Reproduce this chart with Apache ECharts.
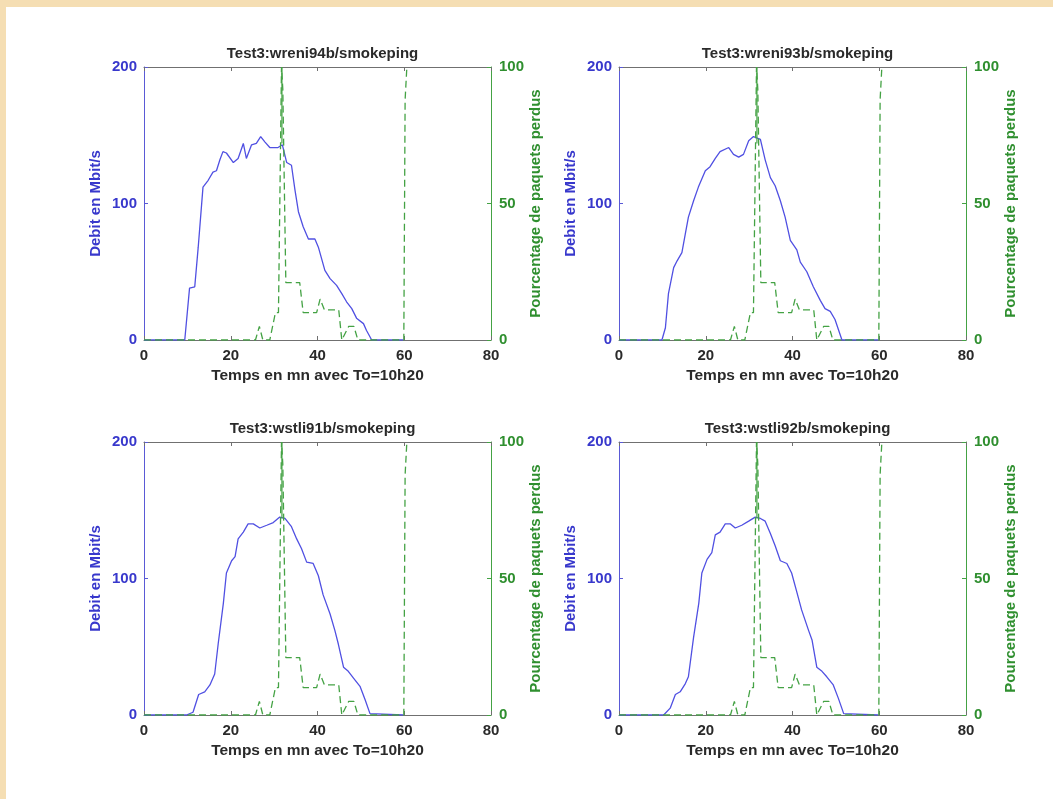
<!DOCTYPE html>
<html>
<head>
<meta charset="utf-8">
<script src="https://cdn.jsdelivr.net/npm/echarts@6.0.0/dist/echarts.min.js"></script>
<style>
html,body{margin:0;padding:0;background:#fff;}
#chart{width:1053px;height:799px;}
</style>
</head>
<body>
<div id="chart"></div>
<script>
// ---- data ----
const titles = ['Test3:wreni94b/smokeping', 'Test3:wreni93b/smokeping', 'Test3:wstli91b/smokeping', 'Test3:wstli92b/smokeping'];
const xTicks = [0, 20, 40, 60, 80];
const xName = 'Temps en mn avec To=10h20';
const yLeftName = 'Debit en Mbit/s';
const yRightName = 'Pourcentage de paquets perdus';

// throughput (Mbit/s) per host
const t94 = [0, 9.4, 10.5, 11.7, 12.5, 13.6, 14.8, 15.9, 16.7, 17.5, 18.2, 19.0, 20.6, 21.7, 22.9, 23.6, 24.8, 25.9, 26.9, 27.9, 29.0, 30.9, 31.9, 32.9, 34.0, 34.8, 35.6, 36.7, 37.9, 39.4, 40.2, 41.7, 42.9, 44.4, 45.6, 46.7, 47.9, 49.0, 50.6, 51.3, 52.5, 59.8];
const d94 = [0, 0, 38, 39, 68, 112, 117, 123, 124, 132, 138, 137, 130, 133, 144, 133, 143, 144, 149, 145, 141, 141, 143, 130, 128, 110, 94, 83, 74, 74, 68, 51, 45, 40, 34, 28, 23, 16, 12, 7, 0, 0];

const t93 = [0, 9.9, 10.7, 11.4, 12.6, 13.4, 14.5, 15.3, 16.0, 17.2, 18.3, 19.9, 21.0, 22.2, 23.3, 25.3, 26.4, 27.6, 28.7, 29.9, 31.0, 32.6, 33.7, 34.9, 36.0, 37.2, 38.3, 39.5, 41.0, 41.8, 43.3, 44.8, 46.4, 47.5, 48.7, 49.8, 51.4, 59.8];
const d93 = [0, 0, 9, 34, 53, 58, 64, 78, 90, 102, 112, 124, 127, 133, 138, 141, 136, 134, 136, 146, 149, 147, 132, 119, 113, 102, 90, 73, 66, 57, 50, 39, 29, 23, 21, 15, 0, 0];

const t91 = [0, 9.8, 11.3, 12.6, 14.0, 15.2, 16.3, 17.1, 18.3, 19.0, 20.2, 21.0, 21.7, 22.9, 24.0, 25.2, 26.7, 28.3, 29.8, 31.3, 32.5, 34.0, 35.2, 36.3, 37.5, 39.0, 40.2, 41.3, 42.9, 44.0, 44.8, 46.0, 47.1, 48.3, 49.8, 51.0, 52.1, 59.8];
const d91 = [0, 0, 2, 15, 17, 22, 30, 52, 82, 104, 113, 116, 129, 134, 140, 140, 137, 139, 141, 145, 144, 138, 129, 122, 112, 111, 102, 88, 74, 62, 52, 35, 32, 27, 21, 11, 1, 0];

const t92 = [0, 10.3, 11.8, 13.0, 14.1, 15.3, 16.0, 17.2, 18.4, 19.1, 20.3, 21.4, 22.2, 23.3, 24.5, 25.7, 26.8, 28.3, 29.9, 31.4, 32.6, 33.7, 34.9, 36.0, 37.2, 38.7, 39.8, 41.0, 42.1, 43.7, 44.5, 45.6, 46.8, 47.9, 49.4, 50.6, 51.8, 59.8];
const d92 = [0, 0, 5, 15, 17, 23, 28, 57, 82, 104, 114, 119, 132, 134, 140, 140, 137, 139, 142, 145, 144, 142, 133, 124, 113, 111, 104, 90, 77, 62, 55, 35, 32, 28, 22, 12, 1, 0];

// packet loss (%) - same pattern on all four panels
const lossT = [0, 25.7, 26.6, 27.4, 29.0, 30.3, 31.0, 31.7, 32.0, 32.7, 35.9, 36.7, 39.8, 40.6, 41.6, 44.9, 45.6, 47.2, 48.4, 49.3, 59.9, 60.2, 60.6];
const lossP = [0, 0, 5, 0, 0, 10, 10, 100, 92, 21, 21, 10, 10, 15, 11, 11, 0, 5, 5, 0, 0, 88, 100];
// solid vertical trace at the loss peak
const spikeT = [31.8, 31.8];
const spikeP = [72, 100];

// ---- styling / layout ----
const FONT = 'Liberation Sans, Arial, Helvetica, sans-serif';
const BLUE_LINE = '#5050e2';
const BLUE_TXT = '#3838cc';
const GREEN_LINE = '#44a244';
const GREEN_TXT = '#2f8f2f';
const FRAME = '#707070';

const grids = [
  {left: 144, top: 67, width: 347, height: 273},
  {left: 619, top: 67, width: 347, height: 273},
  {left: 144, top: 442, width: 347, height: 273},
  {left: 619, top: 442, width: 347, height: 273}
];
const throughput = [[t94, d94], [t93, d93], [t91, d91], [t92, d92]];
const pairs = (xs, ys) => xs.map((x, i) => [x, ys[i]]);

const option = {
  animation: false,
  backgroundColor: '#ffffff',
  graphic: [
    {type: 'rect', shape: {x: 0, y: 0, width: 1053, height: 7}, style: {fill: '#F5DEB3'}, silent: true},
    {type: 'rect', shape: {x: 0, y: 0, width: 6, height: 799}, style: {fill: '#F5DEB3'}, silent: true}
  ],
  title: [],
  grid: [],
  xAxis: [],
  yAxis: [],
  series: []
};

grids.forEach((g, i) => {
  option.grid.push(Object.assign({outerBoundsMode: 'none', containLabel: false}, g));
  option.title.push({
    text: titles[i],
    left: g.left + g.width / 2,
    top: g.top - 26,
    textAlign: 'center',
    textStyle: {fontFamily: FONT, fontSize: 15, fontWeight: 'bold', color: '#2a2a2a'}
  });
  // bottom x axis
  option.xAxis.push({
    type: 'value', gridIndex: i, position: 'bottom', min: xTicks[0], max: xTicks[xTicks.length - 1], interval: xTicks[1] - xTicks[0],
    axisLine: {show: true, onZero: false, lineStyle: {color: FRAME, width: 1}},
    axisTick: {show: true, inside: true, length: 4, lineStyle: {color: FRAME}},
    axisLabel: {show: true, margin: 8, color: '#2a2a2a', fontFamily: FONT, fontSize: 15, fontWeight: 'bold'},
    splitLine: {show: false},
    name: xName, nameLocation: 'middle', nameGap: 28,
    nameTextStyle: {color: '#2a2a2a', fontFamily: FONT, fontSize: 15.5, fontWeight: 'bold'}
  });
  // top x axis (frame + ticks)
  option.xAxis.push({
    type: 'value', gridIndex: i, position: 'top', min: xTicks[0], max: xTicks[xTicks.length - 1], interval: xTicks[1] - xTicks[0],
    axisLine: {show: true, onZero: false, lineStyle: {color: FRAME, width: 1}},
    axisTick: {show: true, inside: true, length: 4, lineStyle: {color: FRAME}},
    axisLabel: {show: false},
    splitLine: {show: false}
  });
  // left y axis (throughput)
  option.yAxis.push({
    type: 'value', gridIndex: i, position: 'left', min: 0, max: 200, interval: 100,
    axisLine: {show: true, onZero: false, lineStyle: {color: '#5a5ad6', width: 1}},
    axisTick: {show: true, inside: true, length: 4, lineStyle: {color: '#5a5ad6'}},
    axisLabel: {show: true, margin: 7, color: BLUE_TXT, fontFamily: FONT, fontSize: 15, fontWeight: 'bold'},
    splitLine: {show: false},
    name: yLeftName, nameLocation: 'middle', nameRotate: 90, nameGap: 41,
    nameTextStyle: {color: BLUE_TXT, fontFamily: FONT, fontSize: 15, fontWeight: 'bold'}
  });
  // right y axis (loss)
  option.yAxis.push({
    type: 'value', gridIndex: i, position: 'right', min: 0, max: 100, interval: 50,
    axisLine: {show: true, onZero: false, lineStyle: {color: GREEN_LINE, width: 1}},
    axisTick: {show: true, inside: true, length: 4, lineStyle: {color: GREEN_LINE}},
    axisLabel: {show: true, margin: 8, color: GREEN_TXT, fontFamily: FONT, fontSize: 15, fontWeight: 'bold'},
    splitLine: {show: false},
    name: yRightName, nameLocation: 'middle', nameRotate: 90, nameGap: 34,
    nameTextStyle: {color: GREEN_TXT, fontFamily: FONT, fontSize: 15, fontWeight: 'bold'}
  });

  option.series.push({
    type: 'line', xAxisIndex: 2 * i, yAxisIndex: 2 * i,
    data: pairs(throughput[i][0], throughput[i][1]),
    showSymbol: false, symbol: 'none', clip: true, z: 3,
    lineStyle: {color: BLUE_LINE, width: 1.3}
  });
  option.series.push({
    type: 'line', xAxisIndex: 2 * i, yAxisIndex: 2 * i + 1,
    data: pairs(lossT, lossP),
    showSymbol: false, symbol: 'none', clip: true, z: 4,
    lineStyle: {color: GREEN_LINE, width: 1.3, type: [7, 4]}
  });
  option.series.push({
    type: 'line', xAxisIndex: 2 * i, yAxisIndex: 2 * i + 1,
    data: pairs(spikeT, spikeP),
    showSymbol: false, symbol: 'none', clip: true, z: 4,
    lineStyle: {color: GREEN_LINE, width: 1.2}
  });
});

const chart = echarts.init(document.getElementById('chart'), null, {renderer: 'canvas'});
chart.setOption(option);
</script>
</body>
</html>
